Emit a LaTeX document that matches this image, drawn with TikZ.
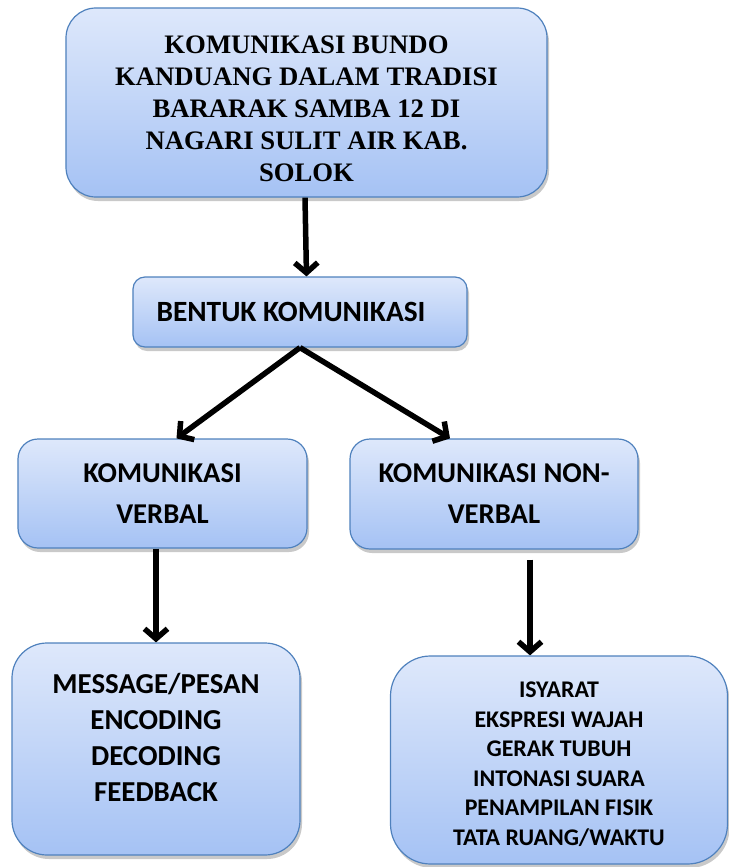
\documentclass[tikz,border=0pt]{standalone}
\usepackage{fontspec}
\setmainfont{Carlito}
\newfontfamily\titlefont{Liberation Serif}
\usetikzlibrary{positioning,arrows.meta,shadows}
\definecolor{boxtop}{HTML}{DEE8FB}
\definecolor{boxbottom}{HTML}{A5C2F4}
\definecolor{boxline}{HTML}{4F81BD}

\begin{document}
\begin{tikzpicture}[
			x=1bp, y=-1bp,
			box/.style = {draw=boxline, line width=1.2bp, top color=boxtop, bottom color=boxbottom,
				drop shadow={shadow xshift=2bp, shadow yshift=-4bp, opacity=.3, fill=black!70},
				align=center, inner sep=0pt},
			link/.style = {line width=5.5bp, -{Straight Barb[length=10bp, width=23bp]}}
		]
		\useasboundingbox (0,0) rectangle (729,867);
		\node[box, rounded corners=30bp, minimum width=481bp, minimum height=189bp,
			font=\titlefont\bfseries\fontsize{26.8}{32}\selectfont] (title) at (306.5,102.5)
			{\rule{0pt}{30bp}KOMUNIKASI BUNDO\\KANDUANG DALAM TRADISI\\BARARAK SAMBA 12 DI\\NAGARI SULIT AIR KAB.\\SOLOK};
		% Level 1.
		\node[box, rounded corners=12bp, minimum width=334bp, minimum height=70bp,
			font=\bfseries\fontsize{29.5}{35}\selectfont] (bentuk) at (300,312) {BENTUK KOMUNIKASI\hspace{18bp}};
		% Level 2.
		\node[box, rounded corners=20bp, minimum width=289bp, minimum height=109bp,
			font=\bfseries\fontsize{28.8}{41}\selectfont] (verbal) at (162.5,493.5) {KOMUNIKASI\\VERBAL};
		\node[box, rounded corners=20bp, minimum width=288bp, minimum height=110bp,
			font=\bfseries\fontsize{28.8}{41}\selectfont] (nonverbal) at (494,494) {KOMUNIKASI NON-\\VERBAL};
		% Level 3.
		\node[box, rounded corners=35bp, minimum width=288bp, minimum height=212bp,
			font=\bfseries\fontsize{29}{36}\selectfont] (message) at (156,749)
			{MESSAGE/PESAN\\ENCODING\\DECODING\\FEEDBACK\\[-12bp]};
		\node[box, rounded corners=40bp, minimum width=337bp, minimum height=208bp,
			font=\bfseries\fontsize{24}{29.6}\selectfont] (nvlist) at (559,760)
			{\rule{0pt}{24bp}ISYARAT\\EKSPRESI WAJAH\\GERAK TUBUH\\INTONASI SUARA\\PENAMPILAN FISIK\\TATA RUANG/WAKTU};
		\coordinate (nvdrop) at ([xshift=36bp]nonverbal.south);
		
		\draw[link] (title.south -| 305,0) to (title.south |- bentuk.north);
		\draw[link] (bentuk.south) to ([xshift=14bp]verbal.north);
		\draw[link] (bentuk.south) to ([xshift=-44bp]nonverbal.north);
		\draw[link] (message.north |- verbal.south) to (message.north);
		\draw[link] ([yshift=-10bp]nvdrop) to (nvdrop |- nvlist.north);
	\end{tikzpicture}
\end{document}
